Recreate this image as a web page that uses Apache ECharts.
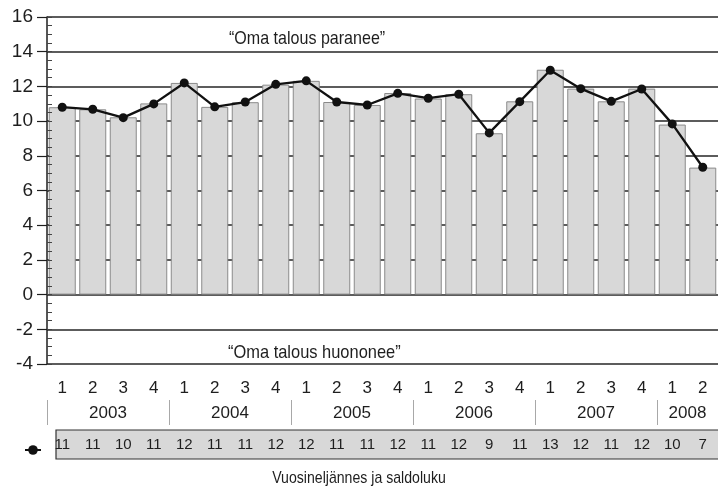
<!DOCTYPE html>
<html>
<head>
<meta charset="utf-8">
<script src="https://cdn.jsdelivr.net/npm/echarts@6/dist/echarts.min.js"></script>
<style>
html,body{margin:0;padding:0;background:#fff;}
#c{width:718px;height:489px;}
</style>
</head>
<body>
<div id="c"></div>
<script>
// ---- data ----
const quarters = ['1','2','3','4','1','2','3','4','1','2','3','4','1','2','3','4','1','2','3','4','1','2'];
const years = ['2003','2004','2005','2006','2007','2008'];
const quartersPerYear = [4,4,4,4,4,2];
const saldo = [10.80,10.68,10.20,10.99,12.20,10.82,11.10,12.12,12.32,11.10,10.93,11.60,11.32,11.55,9.32,11.12,12.93,11.87,11.14,11.85,9.84,7.34];
const barValues = [10.80,10.68,10.22,11.02,12.20,10.82,11.09,12.10,12.32,11.10,10.93,11.62,11.30,11.55,9.30,11.14,12.96,11.87,11.14,11.87,9.80,7.32];
const tableLabels = ['11','11','10','11','12','11','11','12','12','11','11','12','11','12','9','11','13','12','11','12','10','7'];
const yMin = -4, yMax = 16, yStep = 2;
const textTop = '\u201COma talous paranee\u201D';
const textBottom = '\u201COma talous huononee\u201D';
const axisTitle = 'Vuosineljännes ja saldoluku';

// derived year label / separator positions (in quarter units)
const yearStarts = [], yearCenters = [];
let acc = 0;
quartersPerYear.forEach(n => { yearStarts.push(acc); yearCenters.push(acc + n / 2); acc += n; });

const SANS = '"Liberation Sans",Arial,sans-serif';
const INK = '#1e1e1e';

const chart = echarts.init(document.getElementById('c'), null, {renderer: 'canvas'});
chart.setOption({
  backgroundColor: '#fff',
  animation: false,
  grid: {left: 47, top: 17, width: 678, height: 347, containLabel: false},
  legend: {
    data: ['Saldoluku'], left: 19, top: 439, itemWidth: 16, itemHeight: 12,
    formatter: () => '', textStyle: {fontSize: 1}, selectedMode: false
  },
  xAxis: [
    {
      type: 'category', data: quarters, position: 'bottom',
      axisLine: {show: false, onZero: false}, axisTick: {show: false},
      axisLabel: {margin: 16, fontSize: 17, fontFamily: SANS, color: INK},
      splitLine: {show: false}
    },
    {
      type: 'value', min: 0, max: quarters.length, position: 'bottom', offset: 36,
      axisLine: {show: false, onZero: false},
      axisTick: {show: true, customValues: yearStarts, length: 25, lineStyle: {color: '#a8a8a8', width: 1}},
      axisLabel: {
        customValues: yearCenters, margin: 5, fontSize: 17, fontFamily: SANS, color: INK,
        formatter: v => years[yearCenters.indexOf(v)] || ''
      },
      splitLine: {show: false}
    },
    {
      type: 'category', data: tableLabels, position: 'bottom', offset: 70, z: 10,
      axisLine: {show: false, onZero: false}, axisTick: {show: false},
      axisLabel: {margin: 3, fontSize: 15, fontFamily: SANS, color: INK},
      splitLine: {show: false}
    }
  ],
  yAxis: [
    {
      type: 'value', min: yMin, max: yMax, interval: yStep, position: 'left',
      axisLine: {show: true, onZero: false, lineStyle: {color: INK, width: 1.5}},
      axisTick: {show: true, length: 10, lineStyle: {color: INK, width: 1.2}},
      axisLabel: {margin: 14, fontSize: 19, fontFamily: SANS, color: INK},
      splitLine: {show: true, lineStyle: {color: '#262626', width: 1.5}}
    },
    {
      type: 'value', min: yMin, max: yMax, interval: yStep, position: 'left', z: 5,
      axisLine: {show: false}, axisLabel: {show: false}, splitLine: {show: false},
      axisTick: {show: true, inside: true, length: 5, lineStyle: {color: '#444', width: 1}},
      minorTick: {show: true, splitNumber: 4, length: 5, lineStyle: {color: '#444', width: 1}}
    }
  ],
  series: [
    {
      name: 'Pylväät', type: 'bar', data: barValues, barWidth: 27,
      itemStyle: {color: '#d8d8d8', borderColor: '#8a8a8a', borderWidth: 1},
      z: 2, silent: true
    },
    {
      name: 'Saldoluku', type: 'line', data: saldo, symbol: 'circle', symbolSize: 9,
      lineStyle: {color: '#111', width: 2.3}, itemStyle: {color: '#111'}, z: 4
    }
  ],
  graphic: [
    {type: 'rect', z: 0, shape: {x: 56, y: 430, width: 680, height: 29},
     style: {fill: '#d8d8d8', stroke: '#333', lineWidth: 1.2}},
    {type: 'text', z: 10, x: 229, y: 39, scaleX: 0.845,
     style: {x: 0, y: 0, text: textTop, font: '19px ' + SANS, fill: INK, verticalAlign: 'middle'}},
    {type: 'text', z: 10, x: 228, y: 353, scaleX: 0.865,
     style: {x: 0, y: 0, text: textBottom, font: '19px ' + SANS, fill: INK, verticalAlign: 'middle'}},
    {type: 'text', z: 10, x: 359, y: 478, scaleX: 0.83,
     style: {x: 0, y: 0, text: axisTitle, font: '17px ' + SANS, fill: INK, align: 'center', verticalAlign: 'middle'}}
  ]
});
</script>
</body>
</html>
